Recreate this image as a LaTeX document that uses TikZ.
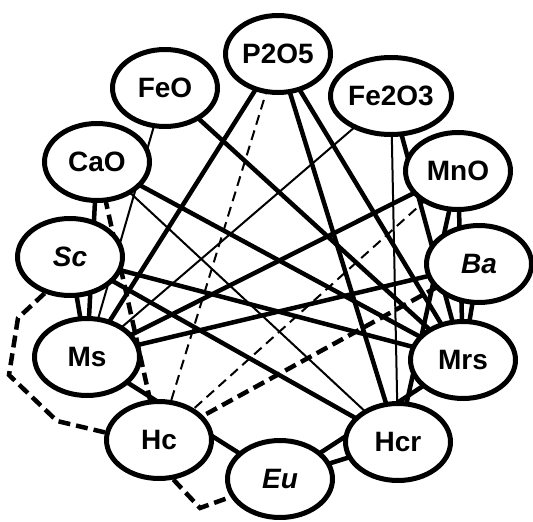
\documentclass[tikz,border=0pt]{standalone}
\usepackage{fontspec}
\setmainfont{Liberation Sans}
\usetikzlibrary{shapes.geometric,backgrounds}
\begin{document}
\begin{tikzpicture}[x=1pt,y=-1pt,
  var/.style={ellipse,draw,line width=5pt,fill=white,minimum width=105pt,minimum height=77pt,inner sep=0pt,font=\fontsize{28}{28}\selectfont\bfseries},
  ivar/.style={var,font=\fontsize{28}{28}\selectfont\bfseries\itshape},
  sline/.style={line width=4.5pt},
  wline/.style={line width=2pt},
  sdash/.style={line width=4.5pt,dash pattern=on 12pt off 6pt},
  wdash/.style={line width=2pt,dash pattern=on 10pt off 6pt}]
\useasboundingbox (0,0) rectangle (533,522);
\node[var]  (P)   at (278,54)  {P2O5};
\node[var]  (Fe3) at (391,96)  {Fe2O3};
\node[var]  (Mn)  at (458,171) {MnO};
\node[ivar] (Ba)  at (479,264) {Ba};
\node[var]  (Mrs) at (463,360) {Mrs};
\node[var]  (Hcr) at (398,442) {Hcr};
\node[ivar] (Eu)  at (280,479) {Eu};
\node[var]  (Hc)  at (159,440) {Hc};
\node[var]  (Ms)  at (87,357)  {Ms};
\node[ivar] (Sc)  at (70,257)  {Sc};
\node[var]  (Ca)  at (97,162)  {CaO};
\node[var]  (Fe)  at (165,88)  {FeO};
\coordinate (w1) at (18,318);
\coordinate (w2) at (9,375);
\coordinate (w3) at (57,421);
\coordinate (w4) at (200,508);
\begin{scope}[on background layer]
% strong solid
\draw[sline] (Ca.center) -- (Ms.center);
\draw[sline] (Sc.center) -- (Ms.center);
\draw[sline] (Sc.center) -- (Mrs.center);
\draw[sline] (Sc.center) -- (Hcr.center);
\draw[sline] (P.center) -- (Ms.center);
\draw[sline] (P.center) -- (Hcr.center);
\draw[sline] (P.center) -- (Mrs.center);
\draw[sline] (Fe.center) -- (Mrs.center);
\draw[sline] (Ca.center) -- (Mrs.center);
\draw[sline] (Ms.center) -- (Mn.center);
\draw[sline] (Ms.center) -- (Ba.center);
\draw[sline] (Fe3.center) -- (Mrs.center);
\draw[sline] (Mn.center) -- (Hcr.center);
\draw[sline] (Mn.center) -- (Mrs.center);
\draw[sline] (Ba.center) -- (Mrs.center);
\draw[sline] (Ms.center) -- (Eu.center);
\draw[sline] (Eu.center) -- (Hcr.center);
\draw[sline] (Eu.center) -- (Mrs.center);
% weak solid
\draw[wline] (Fe.center) -- (Ms.center);
\draw[wline] (Ca.center) -- (Hcr.center);
\draw[wline] (Fe3.center) -- (Ms.center);
\draw[wline] (Fe3.center) -- (Hcr.center);
% dashed
\draw[wdash] (P.center) -- (Hc.center);
\draw[wdash] (Hc.center) -- (Mn.center);
\draw[sdash] (Hc.center) -- (Ba.center);
\draw[sdash] (Ca.center) -- (Hc.center);
\draw[sdash] (Sc.235) -- (w1) -- (w2) -- (w3) -- (Hc.172);
\draw[sdash] (Hc.-70) -- (w4) -- (Eu.200);
\end{scope}
\end{tikzpicture}
\end{document}
